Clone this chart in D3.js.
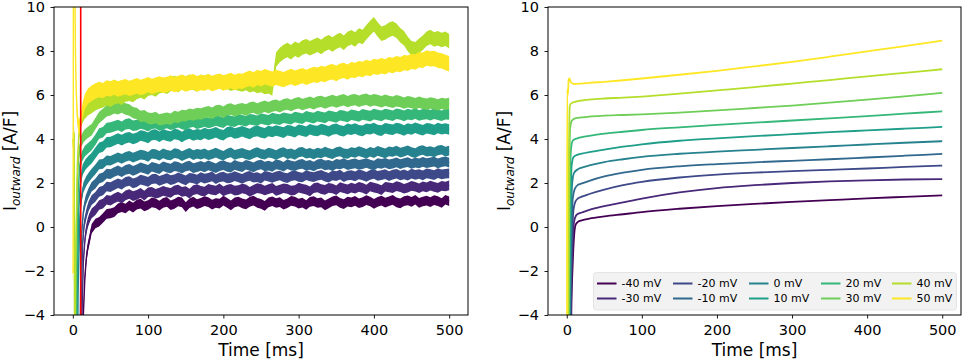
<!DOCTYPE html>
<html>
<head>
<meta charset="utf-8">
<script src="https://cdn.jsdelivr.net/npm/d3@7"></script>
<style>
  body { margin: 0; background: #fff; }
  svg { display: block; font-family: "DejaVu Sans", sans-serif; }
</style>
</head>
<body>
<svg id="chart" width="964" height="361"></svg>
<script>
// step voltages, one trace per step
const voltages = ["-40 mV", "-30 mV", "-20 mV", "-10 mV", "0 mV", "10 mV", "20 mV", "30 mV", "40 mV", "50 mV"];
const xTicks = [0, 100, 200, 300, 400, 500];
const yTicks = [-4, -2, 0, 2, 4, 6, 8, 10];
const stimTime = 10.5;

// ---- recorded traces (left): onset [t, I] then samples every 5 ms from 25 ms
const recStart = [
  [[0, -7], [12.5, -7], [14, -4], [16, -2.3], [18, -1.4], [20, -0.9], [22, -0.6]],
  [[0, -7], [11, -7], [12.5, -3.5], [14, -1.6], [16, -0.6], [18, -0.1], [20, 0.2], [22, 0.4]],
  [[0, -7], [10, -7], [11.5, -3], [13, -0.8], [15, 0.1], [18, 0.6], [21, 0.95]],
  [[0, -7], [9, -7], [10.5, -2.5], [12, -0.2], [14, 0.7], [17, 1.2], [21, 1.55]],
  [[0, -7], [6, -7], [7, -3], [9, 0.2], [11, 1.2], [14, 1.8], [18, 2.1], [21, 2.25]],
  [[0, -7], [5, -7], [6, -2.5], [8, 0.9], [10, 2.0], [13, 2.6], [17, 2.85], [21, 3.0]],
  [[0, -7], [4, -7], [5, -2], [7, 1.5], [9, 2.7], [12, 3.2], [16, 3.45], [21, 3.6]],
  [[0, -7], [3, -7], [4, -1.5], [6, 2.2], [8, 3.3], [11, 3.9], [15, 4.15], [20, 4.3]],
  [[0, 4.0], [1, 3.6], [1.8, 4.3], [2.3, -7], [2.8, -7], [4, -1], [6, 2.8], [8, 4.2], [11, 4.9], [15, 5.2], [20, 5.4]],
  [[0, -2.1], [0.4, -2], [0.8, 12], [2.5, 12], [3.5, 8], [4.5, 6.2], [6, 5.0], [8, 4.5], [10, 4.7], [13, 5.3], [16, 5.7], [20, 5.95]]
];
const recTime = d3.range(25, 501, 5);

const recNeg40 = [-0.08, 0.16, 0.24, 0.41, 0.6, 0.62, 0.68, 0.85, 0.9, 0.84,
  0.98, 0.88, 1.02, 1.06, 0.94, 1.0, 1.12, 1.08, 0.97, 1.1,
  1.14, 0.99, 1.05, 1.16, 1.12, 0.9, 1.08, 1.15, 1.04, 1.1,
  1.18, 1.13, 1.02, 1.09, 1.06, 1.2, 1.1, 0.98, 1.12, 1.16,
  1.07, 1.03, 1.14, 1.2, 1.1, 1.05, 0.96, 1.12, 1.17, 1.09,
  1.13, 1.01, 1.08, 1.19, 1.15, 1.06, 1.11, 1.0, 1.14, 1.18,
  1.09, 1.12, 0.98, 1.07, 1.17, 1.21, 1.1, 1.04, 1.15, 1.12,
  1.19, 1.08, 1.13, 1.22, 1.16, 1.05, 1.14, 1.2, 1.11, 1.17,
  1.23, 1.12, 1.07, 1.18, 1.21, 1.14, 1.24, 1.1, 1.16, 1.2,
  1.13, 1.22, 1.18, 1.09, 1.24, 1.17];
const recNeg30 = [0.62, 0.77, 1.0, 1.06, 1.24, 1.2, 1.3, 1.38, 1.29, 1.44,
  1.5, 1.4, 1.46, 1.55, 1.43, 1.58, 1.6, 1.51, 1.56, 1.64,
  1.59, 1.55, 1.67, 1.7, 1.6, 1.63, 1.52, 1.68, 1.72, 1.64,
  1.61, 1.73, 1.69, 1.66, 1.76, 1.62, 1.7, 1.74, 1.65, 1.68,
  1.75, 1.71, 1.6, 1.69, 1.77, 1.73, 1.66, 1.72, 1.78, 1.64,
  1.7, 1.76, 1.73, 1.65, 1.68, 1.79, 1.74, 1.7, 1.62, 1.77,
  1.8, 1.72, 1.69, 1.78, 1.75, 1.67, 1.81, 1.76, 1.71, 1.79,
  1.74, 1.82, 1.78, 1.7, 1.84, 1.79, 1.75, 1.68, 1.83, 1.8,
  1.77, 1.86, 1.81, 1.74, 1.79, 1.87, 1.83, 1.76, 1.85, 1.8,
  1.88, 1.82, 1.78, 1.87, 1.84, 1.89];
const recNeg20 = [1.22, 1.37, 1.6, 1.66, 1.84, 1.81, 1.9, 1.99, 1.93, 2.05,
  2.09, 1.98, 2.04, 2.15, 2.11, 2.05, 2.18, 2.2, 2.1, 2.16,
  2.22, 2.13, 2.17, 2.26, 2.19, 2.12, 2.24, 2.21, 2.15, 2.27,
  2.2, 2.24, 2.3, 2.17, 2.26, 2.29, 2.21, 2.23, 2.31, 2.25,
  2.19, 2.28, 2.32, 2.24, 2.27, 2.2, 2.33, 2.29, 2.23, 2.3,
  2.34, 2.26, 2.22, 2.31, 2.35, 2.28, 2.25, 2.36, 2.3, 2.27,
  2.33, 2.37, 2.29, 2.24, 2.35, 2.31, 2.38, 2.26, 2.34, 2.36,
  2.3, 2.39, 2.35, 2.28, 2.37, 2.41, 2.32, 2.36, 2.4, 2.31,
  2.38, 2.42, 2.34, 2.39, 2.33, 2.43, 2.37, 2.41, 2.35, 2.44,
  2.4, 2.36, 2.45, 2.39, 2.42, 2.44];
const recNeg10 = [1.83, 1.97, 2.2, 2.26, 2.43, 2.4, 2.5, 2.57, 2.49, 2.6,
  2.64, 2.55, 2.62, 2.71, 2.66, 2.6, 2.74, 2.69, 2.63, 2.76,
  2.7, 2.66, 2.77, 2.73, 2.65, 2.75, 2.79, 2.68, 2.72, 2.78,
  2.71, 2.8, 2.74, 2.67, 2.77, 2.81, 2.73, 2.7, 2.82, 2.76,
  2.72, 2.83, 2.78, 2.71, 2.8, 2.84, 2.75, 2.79, 2.73, 2.85,
  2.81, 2.74, 2.86, 2.79, 2.76, 2.84, 2.87, 2.78, 2.82, 2.75,
  2.85, 2.88, 2.8, 2.83, 2.77, 2.87, 2.84, 2.9, 2.81, 2.86,
  2.89, 2.82, 2.86, 2.91, 2.84, 2.79, 2.9, 2.87, 2.92, 2.85,
  2.88, 2.94, 2.86, 2.91, 2.95, 2.87, 2.93, 2.89, 2.96, 2.9,
  2.94, 2.97, 2.89, 2.95, 2.98, 2.93];
const rec0 = [2.43, 2.62, 2.85, 2.87, 3.03, 3.01, 3.09, 3.17, 3.1, 3.19,
  3.24, 3.15, 3.22, 3.29, 3.26, 3.19, 3.33, 3.31, 3.24, 3.35,
  3.28, 3.25, 3.36, 3.32, 3.22, 3.3, 3.37, 3.27, 3.33, 3.29,
  3.35, 3.26, 3.31, 3.38, 3.3, 3.24, 3.34, 3.39, 3.28, 3.33,
  3.37, 3.3, 3.26, 3.35, 3.4, 3.32, 3.29, 3.38, 3.34, 3.27,
  3.36, 3.41, 3.31, 3.35, 3.28, 3.39, 3.42, 3.33, 3.37, 3.3,
  3.38, 3.34, 3.43, 3.36, 3.31, 3.4, 3.44, 3.35, 3.32, 3.41,
  3.37, 3.45, 3.39, 3.33, 3.42, 3.36, 3.46, 3.4, 3.35, 3.44,
  3.41, 3.47, 3.38, 3.43, 3.49, 3.4, 3.36, 3.46, 3.5, 3.42,
  3.45, 3.39, 3.48, 3.51, 3.43, 3.47];
const rec10 = [3.13, 3.37, 3.6, 3.66, 3.85, 3.86, 3.94, 4.02, 3.95, 4.04,
  4.08, 4.0, 4.06, 4.16, 4.12, 4.05, 4.18, 4.2, 4.1, 4.21,
  4.15, 4.11, 4.23, 4.19, 4.09, 4.2, 4.25, 4.16, 4.22, 4.18,
  4.27, 4.2, 4.24, 4.31, 4.22, 4.17, 4.3, 4.34, 4.25, 4.29,
  4.35, 4.28, 4.23, 4.33, 4.37, 4.3, 4.26, 4.36, 4.32, 4.39,
  4.34, 4.29, 4.4, 4.37, 4.31, 4.42, 4.38, 4.33, 4.44, 4.39,
  4.36, 4.45, 4.41, 4.34, 4.43, 4.47, 4.39, 4.35, 4.46, 4.42,
  4.48, 4.4, 4.37, 4.47, 4.44, 4.5, 4.41, 4.38, 4.49, 4.45,
  4.42, 4.5, 4.46, 4.39, 4.48, 4.43, 4.51, 4.45, 4.4, 4.49,
  4.46, 4.41, 4.5, 4.44, 4.48, 4.43];
const rec20 = [3.73, 3.97, 4.25, 4.31, 4.5, 4.52, 4.58, 4.64, 4.56, 4.67,
  4.7, 4.6, 4.63, 4.71, 4.66, 4.58, 4.69, 4.72, 4.62, 4.67,
  4.73, 4.65, 4.7, 4.76, 4.68, 4.64, 4.75, 4.78, 4.7, 4.74,
  4.8, 4.73, 4.77, 4.84, 4.79, 4.74, 4.86, 4.82, 4.78, 4.88,
  4.85, 4.81, 4.9, 4.87, 4.83, 4.93, 4.89, 4.85, 4.95, 4.91,
  4.88, 4.97, 4.93, 4.9, 5.0, 4.96, 4.92, 5.03, 4.99, 4.95,
  5.04, 5.0, 4.96, 5.06, 5.02, 4.98, 5.08, 5.05, 5.0, 5.1,
  5.07, 5.02, 5.12, 5.08, 5.04, 5.13, 5.09, 5.05, 5.14, 5.1,
  5.06, 5.15, 5.11, 5.05, 5.13, 5.09, 5.16, 5.07, 5.12, 5.14,
  5.08, 5.15, 5.1, 5.06, 5.13, 5.11];
const rec30 = [4.42, 4.7, 4.98, 5.12, 5.28, 5.33, 5.42, 5.37, 5.45, 5.36,
  5.32, 5.2, 5.16, 5.02, 5.06, 4.95, 4.92, 4.98, 4.87, 4.91,
  4.94, 4.9, 5.02, 4.98, 5.07, 5.05, 5.13, 5.09, 5.16, 5.14,
  5.2, 5.24, 5.17, 5.27, 5.3, 5.22, 5.33, 5.36, 5.28, 5.34,
  5.38, 5.32, 5.41, 5.45, 5.36, 5.43, 5.49, 5.42, 5.5, 5.53,
  5.47, 5.56, 5.59, 5.52, 5.6, 5.65, 5.57, 5.62, 5.67, 5.6,
  5.68, 5.71, 5.64, 5.7, 5.75, 5.68, 5.74, 5.78, 5.7, 5.76,
  5.79, 5.72, 5.77, 5.81, 5.73, 5.78, 5.75, 5.69, 5.76, 5.71,
  5.67, 5.74, 5.7, 5.63, 5.69, 5.66, 5.6, 5.67, 5.62, 5.58,
  5.64, 5.6, 5.55, 5.62, 5.58, 5.61];
const rec40 = [5.5, 5.62, 5.7, 5.76, 5.85, 5.79, 5.9, 5.96, 5.88, 6.02,
  6.06, 6.0, 6.14, 6.2, 6.12, 6.28, 6.33, 6.25, 6.4, 6.44,
  6.38, 6.5, 6.55, 6.46, 6.58, 6.52, 6.6, 6.56, 6.48, 6.6,
  6.55, 6.62, 6.5, 6.58, 6.63, 6.54, 6.6, 6.51, 6.57, 6.52,
  6.48, 6.55, 6.44, 6.5, 6.41, 6.46, 6.36, 6.4, 6.3, 7.6,
  7.82, 7.95, 8.05, 7.94, 8.1, 8.02, 8.16, 8.22, 8.12, 8.2,
  8.28, 8.18, 8.32, 8.4, 8.3, 8.42, 8.5, 8.38, 8.55, 8.62,
  8.52, 8.7, 8.64, 8.85, 9.05, 9.22, 8.98, 8.78, 8.84, 8.96,
  9.02, 8.92, 8.72, 8.58, 8.32, 8.12, 8.08, 8.24, 8.38, 8.56,
  8.64, 8.52, 8.58, 8.5, 8.56, 8.44];
const rec50 = [6.08, 6.18, 6.25, 6.2, 6.32, 6.28, 6.36, 6.27, 6.33, 6.38,
  6.3, 6.35, 6.42, 6.34, 6.4, 6.47, 6.39, 6.45, 6.5, 6.44,
  6.48, 6.55, 6.47, 6.52, 6.58, 6.5, 6.56, 6.6, 6.51, 6.57,
  6.54, 6.61, 6.52, 6.58, 6.63, 6.55, 6.6, 6.66, 6.57, 6.64,
  6.62, 6.7, 6.76, 6.68, 6.8, 6.74, 6.83, 6.78, 6.72, 6.8,
  6.75, 6.7, 6.78, 6.84, 6.76, 6.82, 6.88, 6.8, 6.87, 6.93,
  6.9, 6.98, 6.93, 7.02, 7.06, 6.98, 7.08, 7.12, 7.04, 7.15,
  7.12, 7.2, 7.16, 7.25, 7.2, 7.3, 7.26, 7.33, 7.28, 7.38,
  7.34, 7.42, 7.38, 7.47, 7.44, 7.53, 7.5, 7.6, 7.58, 7.68,
  7.64, 7.66, 7.58, 7.55, 7.48, 7.42];
const recValues = [recNeg40, recNeg30, recNeg20, recNeg10, rec0, rec10, rec20, rec30, rec40, rec50];
// half-thickness of the noise band of each trace, A/F
const recNoise = [0.22, 0.22, 0.22, 0.22, 0.22, 0.24, 0.24, 0.26, 0.33, 0.35];

// ---- model traces (right): onset [t, I] then values at modelTime
const modelStart = [
  [[0, -9], [5, -9], [6, -4], [8, -1.6], [10, -0.3], [12, 0.12], [15, 0.24]],
  [[0, -9], [4.5, -9], [5.5, -4], [7.5, -1.2], [9.5, 0.2], [12, 0.5], [15, 0.6]],
  [[0, -9], [4, -9], [5, -4], [7, -0.6], [9, 0.8], [11.5, 1.15], [15, 1.3]],
  [[0, -9], [3.5, -9], [4.5, -4], [6.3, -0.3], [8, 1.3], [10.5, 1.72], [15, 1.92]],
  [[0, -9], [3, -9], [4, -4], [5.5, 0], [7, 1.9], [9.5, 2.45], [15, 2.63]],
  [[0, -9], [2.5, -9], [3.5, -4], [5, 0.8], [6.5, 2.8], [9, 3.18], [15, 3.29]],
  [[0, -9], [2, -9], [3, -4], [4.2, 1.5], [5.5, 3.5], [8, 3.93], [15, 4.04]],
  [[0, -9], [1.5, -9], [2.5, -4], [3.5, 2.5], [4.5, 4.5], [7, 4.85], [12, 4.95]],
  [[0, -9], [1, -9], [2, -4], [3, 3.5], [4, 5.5], [6, 5.62], [12, 5.7]],
  [[0, -9], [0.2, -9], [0.5, 6.25], [1.5, 6.0], [2.5, 6.7], [3.5, 6.75], [5, 6.62], [7, 6.53], [10, 6.5], [14, 6.51]]
];
const modelTime = [20, 30, 50, 75, 100, 150, 200, 250, 300, 350, 400, 450, 500];
const modelNeg40 = [0.3, 0.38, 0.48, 0.58, 0.68, 0.83, 0.95, 1.05, 1.14, 1.22, 1.3, 1.37, 1.44];
const modelNeg30 = [0.66, 0.78, 0.95, 1.12, 1.29, 1.57, 1.77, 1.9, 2.0, 2.07, 2.12, 2.16, 2.18];
const modelNeg20 = [1.38, 1.5, 1.7, 1.9, 2.05, 2.25, 2.38, 2.47, 2.54, 2.6, 2.66, 2.73, 2.79];
const modelNeg10 = [1.98, 2.1, 2.3, 2.47, 2.6, 2.76, 2.86, 2.94, 3.01, 3.08, 3.16, 3.24, 3.32];
const model0 = [2.7, 2.8, 2.95, 3.08, 3.19, 3.33, 3.43, 3.51, 3.59, 3.67, 3.75, 3.83, 3.9];
const model10 = [3.33, 3.4, 3.52, 3.65, 3.76, 3.92, 4.03, 4.13, 4.22, 4.31, 4.39, 4.47, 4.55];
const model20 = [4.08, 4.14, 4.24, 4.33, 4.41, 4.53, 4.64, 4.74, 4.84, 4.94, 5.04, 5.15, 5.26];
const model30 = [4.98, 5.02, 5.06, 5.09, 5.12, 5.2, 5.3, 5.41, 5.52, 5.65, 5.79, 5.94, 6.1];
const model40 = [5.75, 5.79, 5.84, 5.88, 5.93, 6.06, 6.21, 6.36, 6.52, 6.68, 6.85, 7.01, 7.17];
const model50 = [6.52, 6.55, 6.6, 6.67, 6.75, 6.92, 7.1, 7.3, 7.51, 7.74, 7.98, 8.22, 8.47];
const modelValues = [modelNeg40, modelNeg30, modelNeg20, modelNeg10, model0, model10, model20, model30, model40, model50];

const color = (i) => d3.interpolateViridis(i / (voltages.length - 1));
const fmtTick = (d) => (d < 0 ? "\u2212" + Math.abs(d) : String(d));

const svg = d3.select("#chart");
const plotTop = 7, plotBottom = 315;

function makePanel(id, left, right) {
  const x = d3.scaleLinear().domain([-25, 525]).range([left, right]);
  const y = d3.scaleLinear().domain([-4, 10]).range([plotBottom, plotTop]);

  svg.append("clipPath").attr("id", id)
    .append("rect")
    .attr("x", left).attr("y", plotTop)
    .attr("width", right - left).attr("height", plotBottom - plotTop);

  const g = svg.append("g");
  const plot = g.append("g").attr("clip-path", `url(#${id})`);
  return { x, y, g, plot, left, right };
}

function finishPanel(p) {
  // frame
  p.g.append("rect")
    .attr("x", p.left).attr("y", plotTop)
    .attr("width", p.right - p.left).attr("height", plotBottom - plotTop)
    .attr("fill", "none").attr("stroke", "#000").attr("stroke-width", 1);

  const xAxis = p.g.append("g")
    .attr("transform", `translate(0,${plotBottom})`)
    .call(d3.axisBottom(p.x).tickValues(xTicks).tickSize(3.5).tickPadding(6).tickFormat(fmtTick));
  const yAxis = p.g.append("g")
    .attr("transform", `translate(${p.left},0)`)
    .call(d3.axisLeft(p.y).tickValues(yTicks).tickSize(3.5).tickPadding(5.5).tickFormat(fmtTick));

  [xAxis, yAxis].forEach((a) => {
    a.select(".domain").remove();
    a.selectAll("line").attr("stroke", "#000").attr("stroke-width", 0.9);
    a.selectAll("text")
      .attr("fill", "#000")
      .style("font-family", "DejaVu Sans")
      .style("font-size", "14.5px");
  });

  p.g.append("text")
    .attr("x", (p.left + p.right) / 2)
    .attr("y", 356)
    .attr("text-anchor", "middle")
    .style("font-size", "17px")
    .text("Time [ms]");

  const yl = p.g.append("text")
    .attr("transform", `translate(${p.left - 38},${(plotTop + plotBottom) / 2}) rotate(-90)`)
    .attr("text-anchor", "middle")
    .style("font-size", "17px");
  yl.append("tspan").text("I");
  yl.append("tspan").attr("dy", 4).style("font-size", "12px").style("font-style", "italic").text("outward");
  yl.append("tspan").attr("dy", -4).text(" [A/F]");
}

// ---- left: recordings
const leftP = makePanel("clipL", 54, 468);
const recSeries = recValues.map((vals, i) =>
  recStart[i].concat(vals.map((v, k) => [recTime[k], v])));
const recLine = d3.line().x((d) => leftP.x(d[0])).y((d) => leftP.y(d[1]));

recSeries.forEach((s, i) => {
  const band = recNoise[i];
  leftP.plot.append("path")
    .datum(s)
    .attr("fill", color(i))
    .attr("d", d3.area()
      .x((d) => leftP.x(d[0]))
      .y0((d) => leftP.y(d[1] - band))
      .y1((d) => leftP.y(d[1] + band)));
  leftP.plot.append("path")
    .datum(s)
    .attr("fill", "none")
    .attr("stroke", color(i))
    .attr("stroke-width", 1.4)
    .attr("d", recLine);
});

leftP.plot.append("line")
  .attr("x1", leftP.x(stimTime)).attr("x2", leftP.x(stimTime))
  .attr("y1", plotTop).attr("y2", plotBottom)
  .attr("stroke", "#ff0000").attr("stroke-width", 1.6);

finishPanel(leftP);

// ---- right: model
const rightP = makePanel("clipR", 548, 961);
const modelLine = d3.line()
  .x((d) => rightP.x(d[0]))
  .y((d) => rightP.y(d[1]))
  .curve(d3.curveMonotoneX);

modelValues.forEach((vals, i) => {
  const s = modelStart[i].concat(vals.map((v, k) => [modelTime[k], v]));
  rightP.plot.append("path")
    .datum(s)
    .attr("fill", "none")
    .attr("stroke", color(i))
    .attr("stroke-width", 1.8)
    .attr("d", modelLine);
});

finishPanel(rightP);

// legend, 5 columns x 2 rows, filled column-wise
const legendCols = [597, 673, 749, 821, 892];
const legendRows = [283.5, 298.5];
const legend = rightP.g.append("g");
legend.append("rect")
  .attr("x", 593.5).attr("y", 272.5)
  .attr("width", 363).attr("height", 37.5)
  .attr("rx", 3)
  .attr("fill", "#f2f2f2")
  .attr("stroke", "#e4e4e4");

voltages.forEach((label, i) => {
  const cx = legendCols[Math.floor(i / 2)];
  const cy = legendRows[i % 2];
  legend.append("line")
    .attr("x1", cx).attr("x2", cx + 19.5)
    .attr("y1", cy).attr("y2", cy)
    .attr("stroke", color(i)).attr("stroke-width", 2);
  legend.append("text")
    .attr("x", cx + 24.5).attr("y", cy)
    .attr("dy", "0.36em")
    .style("font-size", "11px")
    .text(label);
});
</script>
</body>
</html>
